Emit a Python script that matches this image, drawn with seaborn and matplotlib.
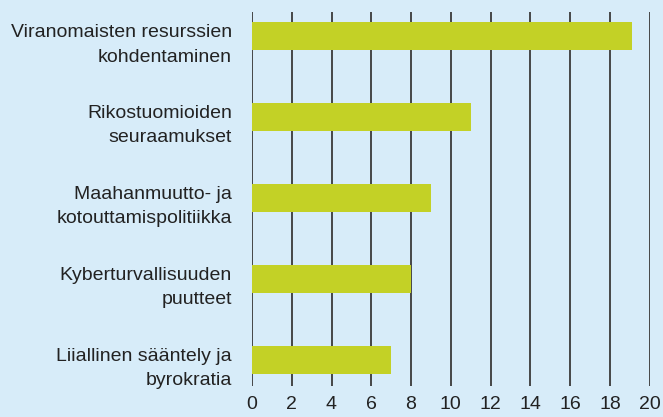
import matplotlib
matplotlib.use("Agg")
import matplotlib.pyplot as plt
import matplotlib.transforms as mtransforms
import seaborn as sns
import pandas as pd

categories = [
    "Viranomaisten resurssien\nkohdentaminen",
    "Rikostuomioiden\nseuraamukset",
    "Maahanmuutto- ja\nkotouttamispolitiikka",
    "Kyberturvallisuuden\npuutteet",
    "Liiallinen sääntely ja\nbyrokratia",
]
values = [19.1, 11.0, 9.0, 8.0, 7.0]
x_ticks = [0, 2, 4, 6, 8, 10, 12, 14, 16, 18, 20]

bg = "#D7ECF9"
bar_color = "#C3D126"

sns.set_theme(style="white")
plt.rcParams["font.family"] = ["Liberation Sans", "DejaVu Sans"]

df = pd.DataFrame({"cat": categories, "val": values})

fig = plt.figure(figsize=(6.63, 4.17), dpi=100, facecolor=bg)
ax = fig.add_axes([0.380, 0.074, 0.600, 0.897])
ax.set_facecolor(bg)

sns.barplot(data=df, x="val", y="cat", orient="h", color=bar_color,
            saturation=1, width=0.345, ax=ax, zorder=3,
            edgecolor="none", linewidth=0)

ax.set_xlim(0, 20)
ax.set_ylim(4.32, -0.30)
ax.set_xticks(x_ticks)
ax.set_xticklabels([str(t) for t in x_ticks], fontsize=14, color="#222222")
ax.xaxis.grid(True, color="#3a3a3a", linewidth=1.3, zorder=0)
ax.set_axisbelow(True)
ax.yaxis.grid(False)
for s in ax.spines.values():
    s.set_visible(False)
ax.tick_params(axis="x", length=0, pad=7)
ax.tick_params(axis="y", length=0, pad=14.4)
offset = mtransforms.ScaledTranslation(0, -3 / 100, fig.dpi_scale_trans)
for lbl in ax.get_yticklabels():
    lbl.set_fontsize(14)
    lbl.set_color("#222222")
    lbl.set_horizontalalignment("right")
    lbl.set_multialignment("right")
    lbl.set_linespacing(1.55)
    lbl.set_transform(lbl.get_transform() + offset)
ax.set_xlabel("")
ax.set_ylabel("")

fig.savefig("out.png", dpi=100, facecolor=bg)
